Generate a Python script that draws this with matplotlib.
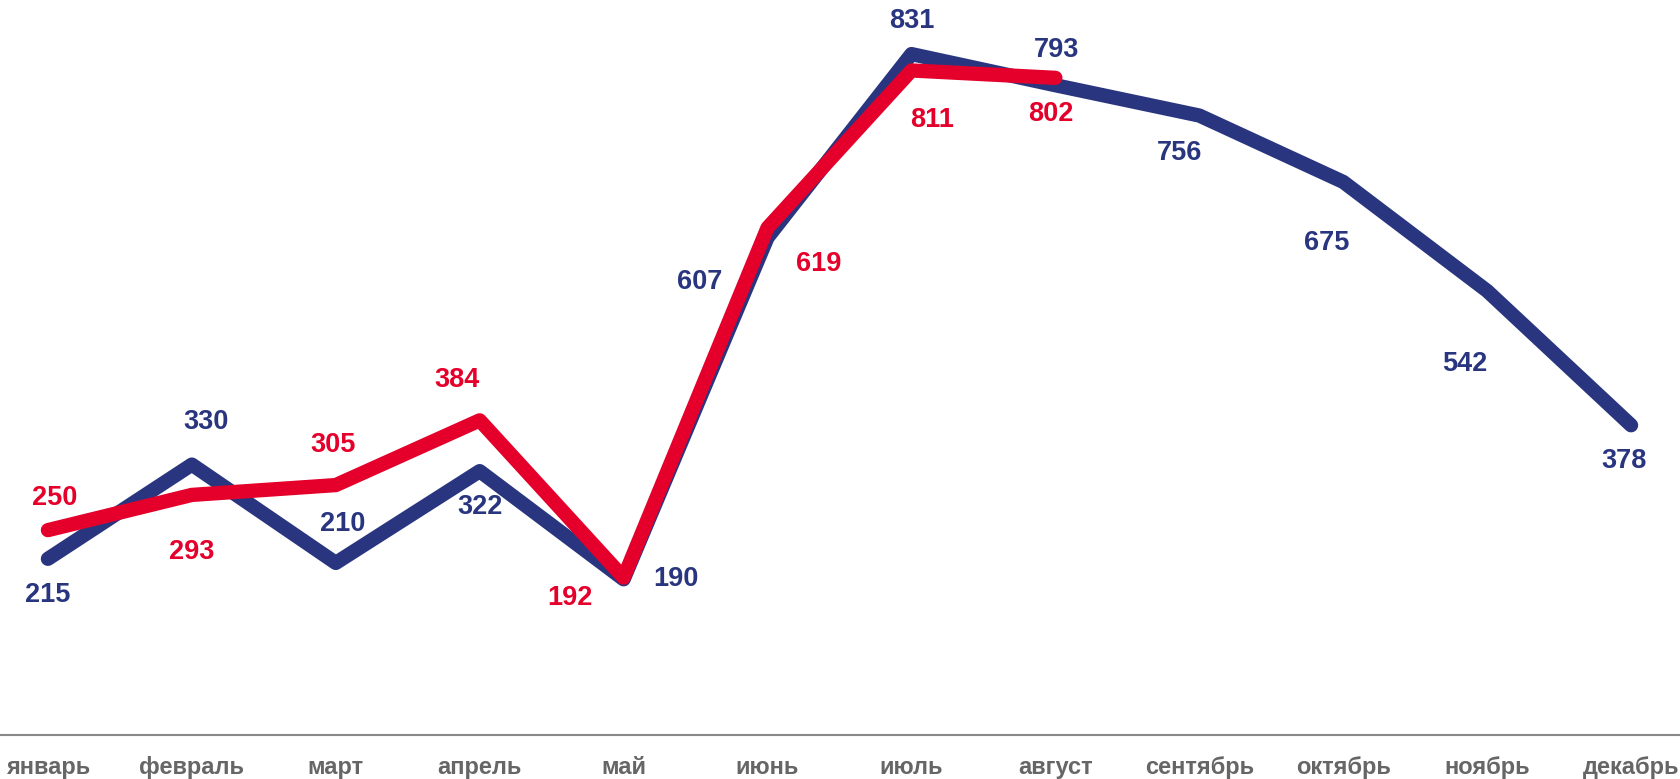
import matplotlib.pyplot as plt

months = ["январь", "февраль", "март", "апрель", "май", "июнь",
          "июль", "август", "сентябрь", "октябрь", "ноябрь", "декабрь"]
blue_values = [215, 330, 210, 322, 190, 607, 831, 793, 756, 675, 542, 378]
red_values = [250, 293, 305, 384, 192, 619, 811, 802]

blue = "#29367f"
red = "#e4002b"

# label offsets in points (dx, dy), placed by eye
blue_off = [(0, -26), (10, 31), (5, 28), (0, -26), (38, 0), (-49, -32),
            (0, 24), (1, 25), (-14, -27), (-12, -44), (-16, -53), (-5, -26)]
red_off = [(5, 23), (0, -41), (-2, 29), (-16, 29), (-39, -15), (37, -26),
           (15, -36), (-3, -26)]

plt.rcParams['font.family'] = ['Liberation Sans', 'DejaVu Sans']

fig = plt.figure(figsize=(16.8, 7.79), dpi=100)
ax = fig.add_axes([0, 0.0565, 1, 0.9435])

x_blue = list(range(len(blue_values)))
x_red = list(range(len(red_values)))
ax.plot(x_blue, blue_values, color=blue, lw=10.3, solid_capstyle='round', solid_joinstyle='round', zorder=2)
ax.plot(x_red, red_values, color=red, lw=10.3, solid_capstyle='round', solid_joinstyle='round', zorder=3)

for i, v in enumerate(blue_values):
    ax.annotate(str(v), (i, v), xytext=blue_off[i], textcoords='offset points',
                ha='center', va='center', color=blue, fontsize=19.5, fontweight='bold')
for i, v in enumerate(red_values):
    ax.annotate(str(v), (i, v), xytext=red_off[i], textcoords='offset points',
                ha='center', va='center', color=red, fontsize=19.5, fontweight='bold')

ax.set_xlim(-0.333, 11.34)
ax.set_ylim(0, 897)
ax.set_xticks(x_blue)
ax.set_xticklabels(months, fontsize=17, fontweight='bold', color='#666666')
ax.tick_params(axis='x', length=0, pad=15)
ax.set_yticks([])
for side in ['top', 'right', 'left']:
    ax.spines[side].set_visible(False)
ax.spines['bottom'].set_color('#888888')
ax.spines['bottom'].set_linewidth(1.5)

fig.savefig("out.png", dpi=100)
